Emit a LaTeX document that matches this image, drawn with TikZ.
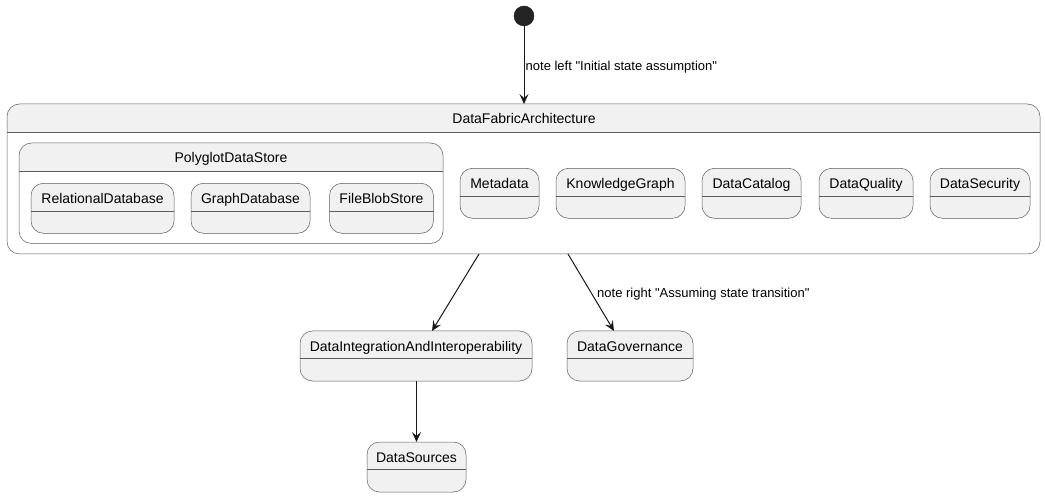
\documentclass[tikz,border=0pt]{standalone}
\usepackage{fontspec}
\setmainfont{Liberation Sans}[Ligatures=TeXOff]
\usetikzlibrary{arrows.meta}
\definecolor{stfill}{HTML}{F1F1F1}
\definecolor{stline}{HTML}{181818}
\definecolor{boxline}{HTML}{5C5C5C}
\tikzset{
  leafstate/.style={draw=boxline, line width=0.5pt, fill=stfill, rounded corners=12.5pt,
    inner sep=0pt, outer sep=0pt,
    path picture={\draw[boxline, line width=0.5pt, sharp corners]
      ([yshift=-27.5pt]path picture bounding box.north west) --
      ([yshift=-27.5pt]path picture bounding box.north east);}},
  compstate/.style={draw=boxline, line width=0.5pt, fill=white, rounded corners=12.5pt,
    inner sep=0pt, outer sep=0pt,
    path picture={\fill[stfill, sharp corners]
      (path picture bounding box.north west) rectangle
      ([yshift=-28pt]path picture bounding box.north east);
      \draw[boxline, line width=0.5pt, sharp corners]
      ([yshift=-28pt]path picture bounding box.north west) --
      ([yshift=-28pt]path picture bounding box.north east);}},
  title/.style={font=\fontsize{14pt}{16pt}\selectfont, text=black, anchor=base, inner sep=0pt},
  edgelabel/.style={font=\fontsize{13pt}{15pt}\selectfont, text=black, inner sep=0pt, anchor=base west},
  trans/.style={draw=stline, line width=1pt, -{Stealth[length=10pt,width=9pt,inset=4pt]}},
  initstate/.style={circle, fill=stline!95!white, draw=stline, minimum size=20pt, inner sep=0pt}
}
\begin{document}
\begin{tikzpicture}[x=1pt,y=-1pt]
\useasboundingbox (0,0) rectangle (1045,497);

% initial state
\node[initstate] (init) at (524,16) {};

% composite DataFabricArchitecture
\node[compstate, minimum width=1033pt, minimum height=150pt] (dfa) at (523.5,179) {};
\node[title] (dfaT) at (524,124) {DataFabricArchitecture};

% composite PolyglotDataStore
\node[compstate, minimum width=424pt, minimum height=100.5pt] (pds) at (231,193.25) {};
\node[title] (pdsT) at (231,163) {PolyglotDataStore};

% leaves inside PolyglotDataStore
\node[leafstate, minimum width=143pt, minimum height=50pt] (rd) at (102.5,208.3) {};
\node[title] (rdT) at (102.5,204) {RelationalDatabase};
\node[leafstate, minimum width=119pt, minimum height=50pt] (gd) at (250.5,208.3) {};
\node[title] (gdT) at (250.5,204) {GraphDatabase};
\node[leafstate, minimum width=104pt, minimum height=50pt] (fb) at (381.5,208.3) {};
\node[title] (fbT) at (381.5,204) {FileBlobStore};

% other leaves of DataFabricArchitecture
\node[leafstate, minimum width=79pt, minimum height=50pt] (md) at (499.5,193.3) {};
\node[title] (mdT) at (499.5,189) {Metadata};
\node[leafstate, minimum width=129pt, minimum height=50pt] (kg) at (620.5,193.3) {};
\node[title] (kgT) at (620.5,189) {KnowledgeGraph};
\node[leafstate, minimum width=99pt, minimum height=50pt] (dc) at (751.5,193.3) {};
\node[title] (dcT) at (751.5,189) {DataCatalog};
\node[leafstate, minimum width=94pt, minimum height=50pt] (dq) at (866,193.3) {};
\node[title] (dqT) at (866,189) {DataQuality};
\node[leafstate, minimum width=100pt, minimum height=50pt] (dsec) at (980,193.3) {};
\node[title] (dsecT) at (980,189) {DataSecurity};

% lower states
\node[leafstate, minimum width=232pt, minimum height=50pt] (di) at (416,356) {};
\node[title] (diT) at (416,351.5) {DataIntegrationAndInteroperability};
\node[leafstate, minimum width=126pt, minimum height=50pt] (dg) at (630,356) {};
\node[title] (dgT) at (630,351.5) {DataGovernance};
\node[leafstate, minimum width=99pt, minimum height=50pt] (dsrc) at (416.5,467) {};
\node[title] (dsrcT) at (416.5,462.5) {DataSources};

% transitions
\draw[trans] (init) -- (init |- dfa.north);
\node[edgelabel] (l1) at (525.5,70.5) {note left "Initial state assumption"};
\draw[trans] (dfa.south -| 479,0) -- (di.north -| 432,0);
\draw[trans] (dfa.south -| 568,0) -- (dg.north -| 614,0);
\node[edgelabel] (l2) at (597,297.5) {note right "Assuming state transition"};
\draw[trans] (di.south -| dsrc.north) -- (dsrc.north);
\end{tikzpicture}
\end{document}
